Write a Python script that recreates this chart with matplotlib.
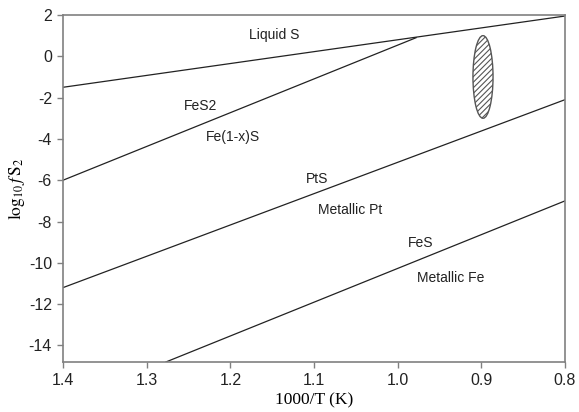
import matplotlib
matplotlib.use("Agg")
import matplotlib.pyplot as plt
from matplotlib.patches import Ellipse

# phase boundaries (x = 1000/T, y = log10 fS2)
liquid_x = [1.4, 0.8]
liquid_y = [-1.5, 1.95]
fes2_x = [1.4, 0.978]
fes2_y = [-6.0, 0.9]
pts_x = [1.4, 0.8]
pts_y = [-11.2, -2.1]
fes_x = [1.277, 0.8]
fes_y = [-14.8, -7.0]

# field labels
label_text = ["Liquid S", "FeS2", "Fe(1-x)S", "PtS", "Metallic Pt", "FeS", "Metallic Fe"]
label_x = [1.147, 1.236, 1.197, 1.096, 1.057, 0.973, 0.937]
label_y = [1.03, -2.40, -3.90, -5.93, -7.43, -9.03, -10.72]

# hatched region
ell_center = (0.898, -1.0)
ell_width = 0.024
ell_height = 4.0

xticks = [1.4, 1.3, 1.2, 1.1, 1.0, 0.9, 0.8]
yticks = [2, 0, -2, -4, -6, -8, -10, -12, -14]

plt.rcParams["mathtext.fontset"] = "stix"
plt.rcParams["hatch.color"] = "#444444"
plt.rcParams["hatch.linewidth"] = 0.8

fig = plt.figure(figsize=(5.79, 4.12), dpi=100)
ax = fig.add_axes([0.1088, 0.1214, 0.867, 0.8422])

for xs, ys in [(liquid_x, liquid_y), (fes2_x, fes2_y), (pts_x, pts_y), (fes_x, fes_y)]:
    ax.plot(xs, ys, color="#222222", linewidth=0.9)

ax.add_patch(Ellipse(ell_center, ell_width, ell_height, facecolor="white",
                     edgecolor="#555555", linewidth=1.0, hatch="//////"))

for t, x, y in zip(label_text, label_x, label_y):
    ax.text(x, y, t, ha="center", va="center", fontsize=10,
            family="Liberation Sans", color="#222222")

ax.set_xlim(1.4, 0.8)
ax.set_ylim(-14.8, 2)
ax.set_xticks(xticks)
ax.set_xticklabels([f"{v:.1f}" for v in xticks])
ax.set_yticks(yticks)
ax.set_yticklabels([str(v) for v in yticks])

for lab in ax.get_xticklabels() + ax.get_yticklabels():
    lab.set_family("Liberation Sans")
    lab.set_fontsize(11.5)
    lab.set_color("#222222")

for sp in ax.spines.values():
    sp.set_color("#808080")
    sp.set_linewidth(1.2)
ax.tick_params(direction="out", length=4, width=1.0, color="#808080", pad=4)

ax.set_xlabel("1000/T (K)", family="Liberation Serif", fontsize=12.5, labelpad=3)
ax.set_ylabel(r"$\mathrm{log}_{10}\,f\,\mathrm{S}_2$", fontsize=12.5, labelpad=1)

fig.savefig("out.png", dpi=100)
